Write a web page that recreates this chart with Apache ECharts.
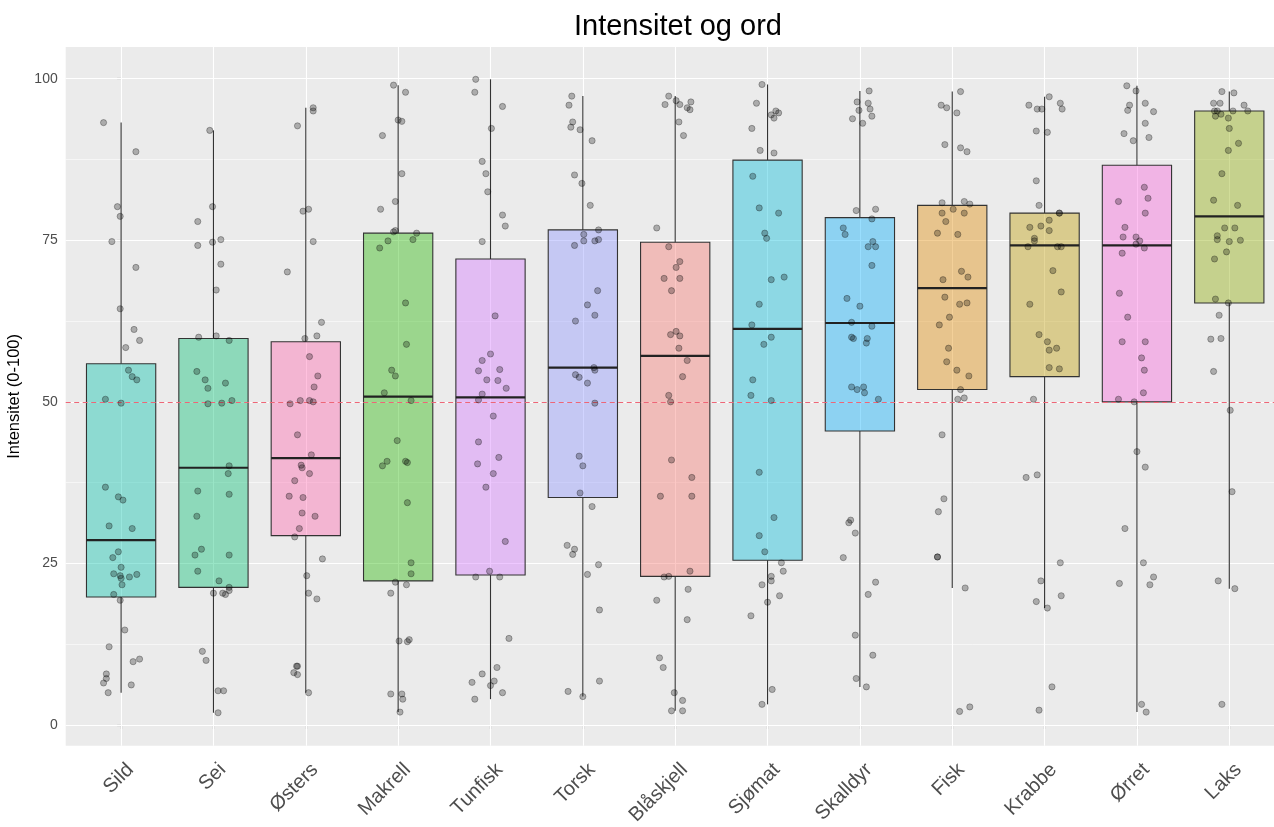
<!DOCTYPE html>
<html>
<head>
<meta charset="utf-8">
<script src="https://cdn.jsdelivr.net/npm/echarts@6/dist/echarts.min.js"></script>
<style>
  html, body { margin: 0; padding: 0; background: #ffffff; }
  #chart { width: 1274px; height: 827px; }
</style>
</head>
<body>
<div id="chart"></div>
<script>
// Categories (words) in plotting order
const categories = ['Sild', 'Sei', 'Østers', 'Makrell', 'Tunfisk', 'Torsk', 'Blåskjell',
                    'Sjømat', 'Skalldyr', 'Fisk', 'Krabbe', 'Ørret', 'Laks'];

// Box statistics per category
const whiskerLow  = [5.0, 1.9, 5.0, 2.0, 4.0, 4.4, 2.2, 3.2, 5.9, 21.2, 18.1, 2.0, 21.1];
const q1          = [19.8, 21.3, 29.3, 22.3, 23.2, 35.2, 23.0, 25.5, 45.5, 51.9, 53.9, 50.0, 65.3];
const median      = [28.6, 39.8, 41.3, 50.8, 50.7, 55.3, 57.1, 61.3, 62.2, 67.6, 74.2, 74.2, 78.7];
const q3          = [55.9, 59.8, 59.3, 76.1, 72.1, 76.6, 74.7, 87.4, 78.5, 80.4, 79.2, 86.6, 95.0];
const whiskerHigh = [93.2, 92.0, 95.5, 99.0, 99.9, 97.3, 97.3, 99.1, 98.1, 98.0, 97.2, 98.9, 98.0];

// Box fill colours (hue palette by word)
const fillColors = ['#00C1AB', '#00BE70', '#FF65AC', '#24B700', '#D575FE', '#8B93FF', '#F8766D',
                    '#00BBDA', '#00ACFC', '#E18A00', '#BE9C00', '#F962DD', '#8CAB00'];

// Y axis ticks and the reference level
const yTicks = [0, 25, 50, 75, 100];
const referenceLevel = 50;

// Individual ratings per word: [horizontal jitter (category units), intensity]
const sild = [[-0.19,93.2],[0.16,88.7],[-0.04,80.2],[-0.01,78.7],[-0.10,74.8],[0.16,70.8],[-0.01,64.4],[0.14,61.2],[0.20,59.5],[0.05,58.4],[0.08,54.9],[0.12,53.9],[0.17,53.4],[-0.17,50.4],[0.00,49.8],[-0.17,36.8],[-0.03,35.3],[0.02,34.8],[-0.13,30.8],[0.12,30.4],[-0.03,26.8],[-0.09,25.9],[0.00,24.4],[-0.08,23.4],[-0.01,23.1],[0.00,22.7],[0.09,22.9],[0.17,23.3],[0.01,21.7],[-0.08,20.2],[-0.01,19.3],[0.04,14.7],[-0.13,12.1],[0.13,9.8],[0.20,10.2],[-0.16,7.9],[-0.16,7.2],[-0.19,6.5],[0.11,6.2],[-0.14,5.0]];
const sei = [[-0.04,92.0],[-0.01,80.2],[-0.17,77.9],[0.08,75.1],[-0.01,74.7],[-0.17,74.2],[0.08,71.3],[0.03,67.3],[-0.16,60.0],[0.03,60.2],[0.17,59.5],[-0.18,54.7],[-0.09,53.4],[-0.06,52.1],[0.13,52.9],[-0.06,49.7],[0.09,49.8],[0.20,50.2],[0.17,40.1],[0.16,38.9],[-0.17,36.2],[0.17,35.7],[-0.18,32.3],[-0.13,27.2],[-0.20,26.3],[0.17,26.3],[-0.17,23.8],[0.06,22.3],[0.00,20.4],[0.10,20.4],[0.13,20.2],[0.17,21.3],[0.17,20.8],[-0.12,11.4],[-0.08,10.0],[0.05,5.3],[0.11,5.3],[0.05,1.9]];
const osters = [[0.08,95.5],[0.08,95.0],[-0.09,92.7],[-0.03,79.5],[0.03,79.8],[0.08,74.8],[-0.20,70.1],[0.17,62.3],[0.12,60.2],[-0.01,59.8],[0.04,57.0],[0.13,54.0],[0.09,52.3],[-0.06,50.2],[0.04,50.2],[0.08,50.0],[-0.17,49.7],[-0.09,44.9],[0.06,41.8],[-0.05,40.2],[-0.04,39.8],[0.04,38.9],[-0.12,37.8],[-0.18,35.4],[-0.03,35.2],[-0.04,32.8],[0.10,32.3],[-0.07,30.4],[-0.12,29.1],[0.18,25.7],[0.01,23.1],[0.03,20.4],[0.12,19.5],[-0.10,9.1],[-0.09,9.1],[-0.13,8.1],[-0.09,7.8],[0.03,5.0]];
const makrell = [[-0.05,99.0],[0.08,97.9],[0.00,93.6],[0.04,93.4],[-0.17,91.2],[0.04,85.3],[-0.03,81.0],[-0.19,79.8],[-0.05,76.3],[-0.03,76.5],[0.20,76.1],[-0.11,74.9],[0.16,75.1],[-0.20,73.8],[0.08,65.3],[0.09,58.9],[-0.07,54.9],[-0.03,54.0],[-0.15,51.4],[0.14,50.2],[-0.01,44.0],[-0.12,40.8],[-0.17,40.1],[0.08,40.8],[0.10,40.6],[0.10,34.4],[0.14,25.1],[0.14,23.4],[-0.03,22.1],[0.09,21.7],[-0.08,20.4],[0.01,13.0],[0.10,12.9],[0.12,13.2],[-0.08,4.8],[0.04,4.8],[0.05,4.0],[0.02,2.0]];
const tunfisk = [[-0.16,99.9],[-0.17,97.9],[0.13,95.7],[0.01,92.3],[-0.09,87.2],[-0.05,85.3],[-0.03,82.5],[0.13,78.9],[0.16,77.2],[-0.09,74.8],[0.05,63.3],[0.00,57.4],[-0.09,56.4],[-0.13,54.8],[0.10,55.0],[-0.04,53.4],[0.08,53.3],[0.17,52.1],[-0.09,51.2],[-0.13,50.3],[0.03,47.8],[-0.13,43.8],[0.09,41.4],[-0.14,40.4],[0.03,38.9],[-0.05,36.8],[0.16,28.4],[-0.01,23.8],[-0.16,22.9],[0.10,22.9],[0.20,13.4],[0.07,8.9],[-0.09,7.9],[-0.20,6.6],[0.04,6.8],[0.00,6.1],[0.13,5.0],[-0.17,4.0]];
const torsk = [[-0.12,97.3],[-0.15,95.9],[-0.11,93.3],[-0.13,92.5],[-0.03,92.1],[0.10,90.4],[-0.09,85.1],[-0.01,83.8],[0.08,80.4],[0.17,76.6],[0.01,75.9],[0.17,75.1],[0.01,74.9],[0.13,74.9],[-0.09,74.2],[0.16,67.2],[0.05,65.0],[0.13,63.4],[-0.08,62.5],[0.12,55.3],[0.13,54.9],[-0.08,54.2],[-0.04,53.8],[0.05,52.9],[0.13,49.8],[-0.04,41.6],[0.00,40.1],[-0.03,35.9],[0.10,33.8],[-0.17,27.8],[-0.09,27.2],[-0.11,26.4],[0.17,24.8],[0.05,23.3],[0.18,17.8],[0.18,6.8],[-0.16,5.2],[0.00,4.4]];
const blaaskjell = [[-0.07,97.3],[-0.11,96.0],[0.01,96.6],[0.05,96.0],[0.17,96.4],[0.13,95.5],[0.16,95.2],[0.04,93.3],[0.09,91.2],[-0.20,76.9],[-0.07,74.0],[0.05,71.7],[0.01,70.8],[-0.12,69.1],[0.05,69.1],[-0.04,67.2],[0.01,60.9],[-0.05,60.4],[0.05,60.2],[0.04,58.3],[0.13,56.4],[0.08,53.9],[-0.07,51.0],[-0.05,50.0],[-0.04,41.0],[0.18,38.3],[-0.16,35.4],[0.18,35.4],[0.16,23.8],[-0.12,22.9],[-0.07,23.0],[0.14,21.0],[-0.20,19.3],[0.13,16.3],[-0.17,10.4],[-0.13,8.9],[-0.01,5.0],[0.08,3.8],[-0.04,2.2],[0.08,2.2]];
const sjomat = [[-0.06,99.1],[-0.12,96.2],[0.04,94.4],[0.09,95.0],[0.12,94.7],[0.07,93.9],[-0.17,92.3],[-0.08,88.9],[0.07,88.5],[-0.16,84.9],[-0.09,80.0],[0.12,79.2],[-0.03,76.1],[-0.01,75.3],[0.04,68.9],[0.18,69.3],[-0.09,65.1],[-0.17,61.9],[0.04,60.0],[-0.04,58.9],[-0.16,53.4],[-0.18,51.0],[0.04,50.2],[-0.09,39.1],[0.07,32.1],[-0.09,29.3],[-0.03,26.8],[0.15,25.1],[0.17,23.8],[0.04,23.0],[0.04,22.3],[-0.06,21.7],[0.13,20.0],[0.00,19.0],[-0.18,16.9],[0.05,5.5],[-0.06,3.2]];
const skalldyr = [[0.10,98.1],[-0.03,96.4],[0.09,96.2],[-0.01,95.1],[0.11,95.3],[0.13,94.2],[-0.08,93.8],[0.03,93.1],[-0.04,79.6],[0.17,79.8],[0.13,78.3],[-0.18,76.9],[-0.16,75.9],[0.14,74.8],[0.09,74.0],[0.17,74.0],[0.13,71.1],[-0.14,66.0],[0.00,64.8],[-0.09,62.3],[0.13,61.7],[-0.09,60.0],[-0.07,59.8],[0.08,59.8],[0.07,59.1],[-0.09,52.3],[-0.03,51.9],[0.04,52.3],[0.05,51.4],[0.20,50.4],[-0.10,31.7],[-0.12,31.3],[-0.05,29.7],[-0.18,25.9],[0.17,22.1],[0.09,20.2],[-0.05,13.9],[0.14,10.8],[-0.04,7.2],[0.07,5.9]];
const fisk = [[0.09,98.0],[-0.12,95.9],[-0.06,95.5],[0.05,94.7],[-0.08,89.8],[0.09,89.3],[0.16,88.7],[-0.11,80.8],[0.13,81.0],[0.19,80.6],[0.01,79.8],[-0.11,79.2],[0.13,79.2],[-0.07,77.9],[-0.16,76.1],[0.06,75.9],[0.10,70.2],[0.17,69.3],[-0.10,68.9],[-0.08,66.2],[0.08,65.1],[0.16,65.3],[-0.03,63.1],[-0.14,61.9],[-0.04,58.3],[-0.06,56.2],[0.05,54.9],[0.18,54.0],[0.09,51.9],[0.06,50.4],[0.13,50.6],[-0.11,44.9],[-0.09,35.0],[-0.15,33.0],[-0.16,26.0],[-0.16,26.0],[0.14,21.2],[0.08,2.1],[0.19,2.8]];
const krabbe = [[0.05,97.2],[-0.17,95.9],[-0.08,95.3],[-0.03,95.3],[0.17,96.2],[0.19,95.3],[-0.09,91.9],[0.03,91.7],[-0.09,84.2],[-0.06,80.4],[0.16,79.2],[0.16,79.2],[0.05,78.1],[-0.16,77.0],[-0.04,77.2],[0.05,76.5],[-0.11,75.3],[-0.11,74.9],[-0.18,74.0],[0.14,74.0],[0.18,74.0],[0.09,70.3],[0.18,67.0],[-0.16,65.1],[-0.06,60.4],[0.03,59.3],[0.05,58.0],[0.13,58.3],[0.05,55.3],[0.16,55.1],[-0.12,50.4],[-0.20,38.3],[-0.08,38.7],[0.17,25.1],[-0.04,22.3],[-0.09,19.1],[0.18,20.0],[0.03,18.1],[0.08,5.9],[-0.06,2.3]];
const orret = [[-0.11,98.9],[-0.01,98.1],[-0.08,95.9],[-0.10,95.1],[0.09,96.2],[0.18,94.9],[0.09,93.1],[-0.14,91.5],[0.13,90.9],[-0.04,90.4],[0.08,83.2],[0.12,81.5],[-0.20,81.0],[0.09,79.2],[-0.13,77.0],[-0.15,75.5],[-0.01,75.5],[0.03,74.9],[-0.01,74.4],[0.08,73.8],[-0.16,73.0],[-0.19,66.8],[-0.10,63.1],[-0.16,59.3],[0.09,59.3],[0.05,56.8],[0.08,54.9],[0.07,51.4],[-0.20,50.4],[-0.03,50.0],[0.00,42.3],[0.09,39.9],[-0.13,30.4],[0.07,25.1],[0.18,22.9],[0.14,21.7],[-0.19,21.9],[0.05,3.2],[0.10,2.0]];
const laks = [[-0.08,98.0],[0.05,97.8],[-0.17,96.2],[-0.10,96.2],[0.16,95.9],[-0.16,95.0],[-0.13,95.0],[0.04,95.0],[0.20,95.0],[-0.15,94.2],[-0.09,94.5],[-0.01,93.9],[0.00,92.3],[0.10,90.0],[-0.01,88.9],[-0.08,85.3],[-0.17,81.2],[0.09,80.4],[-0.05,76.9],[0.06,76.9],[-0.13,75.7],[-0.13,75.1],[0.00,74.8],[0.12,75.0],[-0.03,73.2],[-0.16,72.1],[-0.15,65.9],[-0.01,65.3],[-0.11,63.4],[-0.20,59.7],[-0.09,59.8],[-0.17,54.7],[0.01,48.7],[0.03,36.1],[-0.12,22.3],[0.06,21.1],[-0.08,3.2]];

const pointSets = [sild, sei, osters, makrell, tunfisk, torsk, blaaskjell,
                   sjomat, skalldyr, fisk, krabbe, orret, laks];

// ---- Series data built from the arrays above ----
const boxData = categories.map((c, i) => [i, whiskerLow[i], q1[i], median[i], q3[i], whiskerHigh[i]]);
const pointData = [];
pointSets.forEach((set, i) => set.forEach(([dx, v]) => pointData.push([i + dx, v])));

function withAlpha(hex, a) {
  const n = parseInt(hex.slice(1), 16);
  return 'rgba(' + (n >> 16 & 255) + ',' + (n >> 8 & 255) + ',' + (n & 255) + ',' + a + ')';
}

const catIndex = categories.map((c, i) => i);
const labelShift = 0.10;   // rotated labels end slightly right of the tick

// Panel grid lines: major at y ticks, minor half-way between, and one per category
const gridLineData = [];
yTicks.forEach(v => gridLineData.push({ yAxis: v, lineStyle: { width: 1.1 } }));
for (let k = 0; k < yTicks.length - 1; k++) {
  gridLineData.push({ yAxis: (yTicks[k] + yTicks[k + 1]) / 2, lineStyle: { width: 0.55 } });
}
catIndex.forEach(i => gridLineData.push({ xAxis: i, lineStyle: { width: 1.1 } }));

const chart = echarts.init(document.getElementById('chart'), null, { renderer: 'canvas' });

chart.setOption({
  animation: false,
  backgroundColor: '#ffffff',
  textStyle: { fontFamily: 'Liberation Sans, Arial, sans-serif' },
  title: {
    text: 'Intensitet og ord',
    left: 569,
    top: 7,
    textStyle: { fontSize: 29, fontWeight: 'normal', color: '#000000', fontFamily: 'Liberation Sans, Arial, sans-serif' }
  },
  grid: {
    left: 65.7,
    right: -10.7,
    top: 47,
    bottom: 81.3,
    show: true,
    backgroundColor: '#EBEBEB',
    borderWidth: 0,
    containLabel: false,
    outerBoundsMode: 'none'
  },
  xAxis: {
    type: 'value',
    min: -0.6,
    max: categories.length - 0.4,
    axisLine: { show: false },
    splitLine: { show: false },
    axisTick: {
      show: true, length: 4, customValues: catIndex,
      lineStyle: { color: '#333333', width: 1.1 }
    },
    axisLabel: {
      customValues: catIndex.map(i => i + labelShift),
      formatter: v => categories[Math.round(v - labelShift)] || '',
      rotate: 45,
      margin: 21,
      fontSize: 20,
      color: '#4D4D4D'
    }
  },
  yAxis: {
    type: 'value',
    min: -3.2,
    max: 104.9,
    name: 'Intensitet (0-100)',
    nameLocation: 'middle',
    nameGap: 29,
    nameTextStyle: { fontSize: 16.5, color: '#000000' },
    axisLine: { show: false },
    splitLine: { show: false },
    axisTick: {
      show: true, length: 4, customValues: yTicks,
      lineStyle: { color: '#333333', width: 1.1 }
    },
    axisLabel: {
      customValues: yTicks,
      margin: 8,
      fontSize: 14,
      color: '#4D4D4D'
    }
  },
  series: [
    {
      name: 'boxes',
      type: 'custom',
      z: 2,
      silent: true,
      encode: { x: 0, y: [1, 2, 3, 4, 5] },
      data: boxData,
      renderItem: function (params, api) {
        const x = api.value(0);
        const pLo = api.coord([x, api.value(1)]);
        const pQ1 = api.coord([x, api.value(2)]);
        const pMed = api.coord([x, api.value(3)]);
        const pQ3 = api.coord([x, api.value(4)]);
        const pHi = api.coord([x, api.value(5)]);
        const half = api.size([0.75, 0])[0] / 2;
        const edge = '#333333';
        return {
          type: 'group',
          children: [
            { type: 'line', shape: { x1: pLo[0], y1: pLo[1], x2: pQ1[0], y2: pQ1[1] },
              style: { stroke: edge, lineWidth: 1.1 } },
            { type: 'line', shape: { x1: pQ3[0], y1: pQ3[1], x2: pHi[0], y2: pHi[1] },
              style: { stroke: edge, lineWidth: 1.1 } },
            { type: 'rect', shape: { x: pQ3[0] - half, y: pQ3[1], width: half * 2, height: pQ1[1] - pQ3[1] },
              style: { fill: withAlpha(fillColors[params.dataIndex], 0.4), stroke: edge, lineWidth: 1.1 } },
            { type: 'line', shape: { x1: pMed[0] - half, y1: pMed[1], x2: pMed[0] + half, y2: pMed[1] },
              style: { stroke: '#222222', lineWidth: 2.2 } }
          ]
        };
      },
      markLine: {
        silent: true,
        z: 3,
        symbol: 'none',
        label: { show: false },
        lineStyle: { color: '#EE6677', width: 1.1, type: [5, 3.5] },
        data: [{ yAxis: referenceLevel }]
      }
    },
    {
      name: 'ratings',
      type: 'scatter',
      z: 4,
      silent: true,
      symbol: 'circle',
      symbolSize: 6.2,
      data: pointData,
      itemStyle: {
        color: 'rgba(0,0,0,0.27)',
        borderColor: 'rgba(0,0,0,0.32)',
        borderWidth: 0.9,
        opacity: 1
      },
      markLine: {
        silent: true,
        z: 1,
        symbol: 'none',
        label: { show: false },
        lineStyle: { color: '#FFFFFF', type: 'solid' },
        data: gridLineData
      }
    }
  ]
});
</script>
</body>
</html>
